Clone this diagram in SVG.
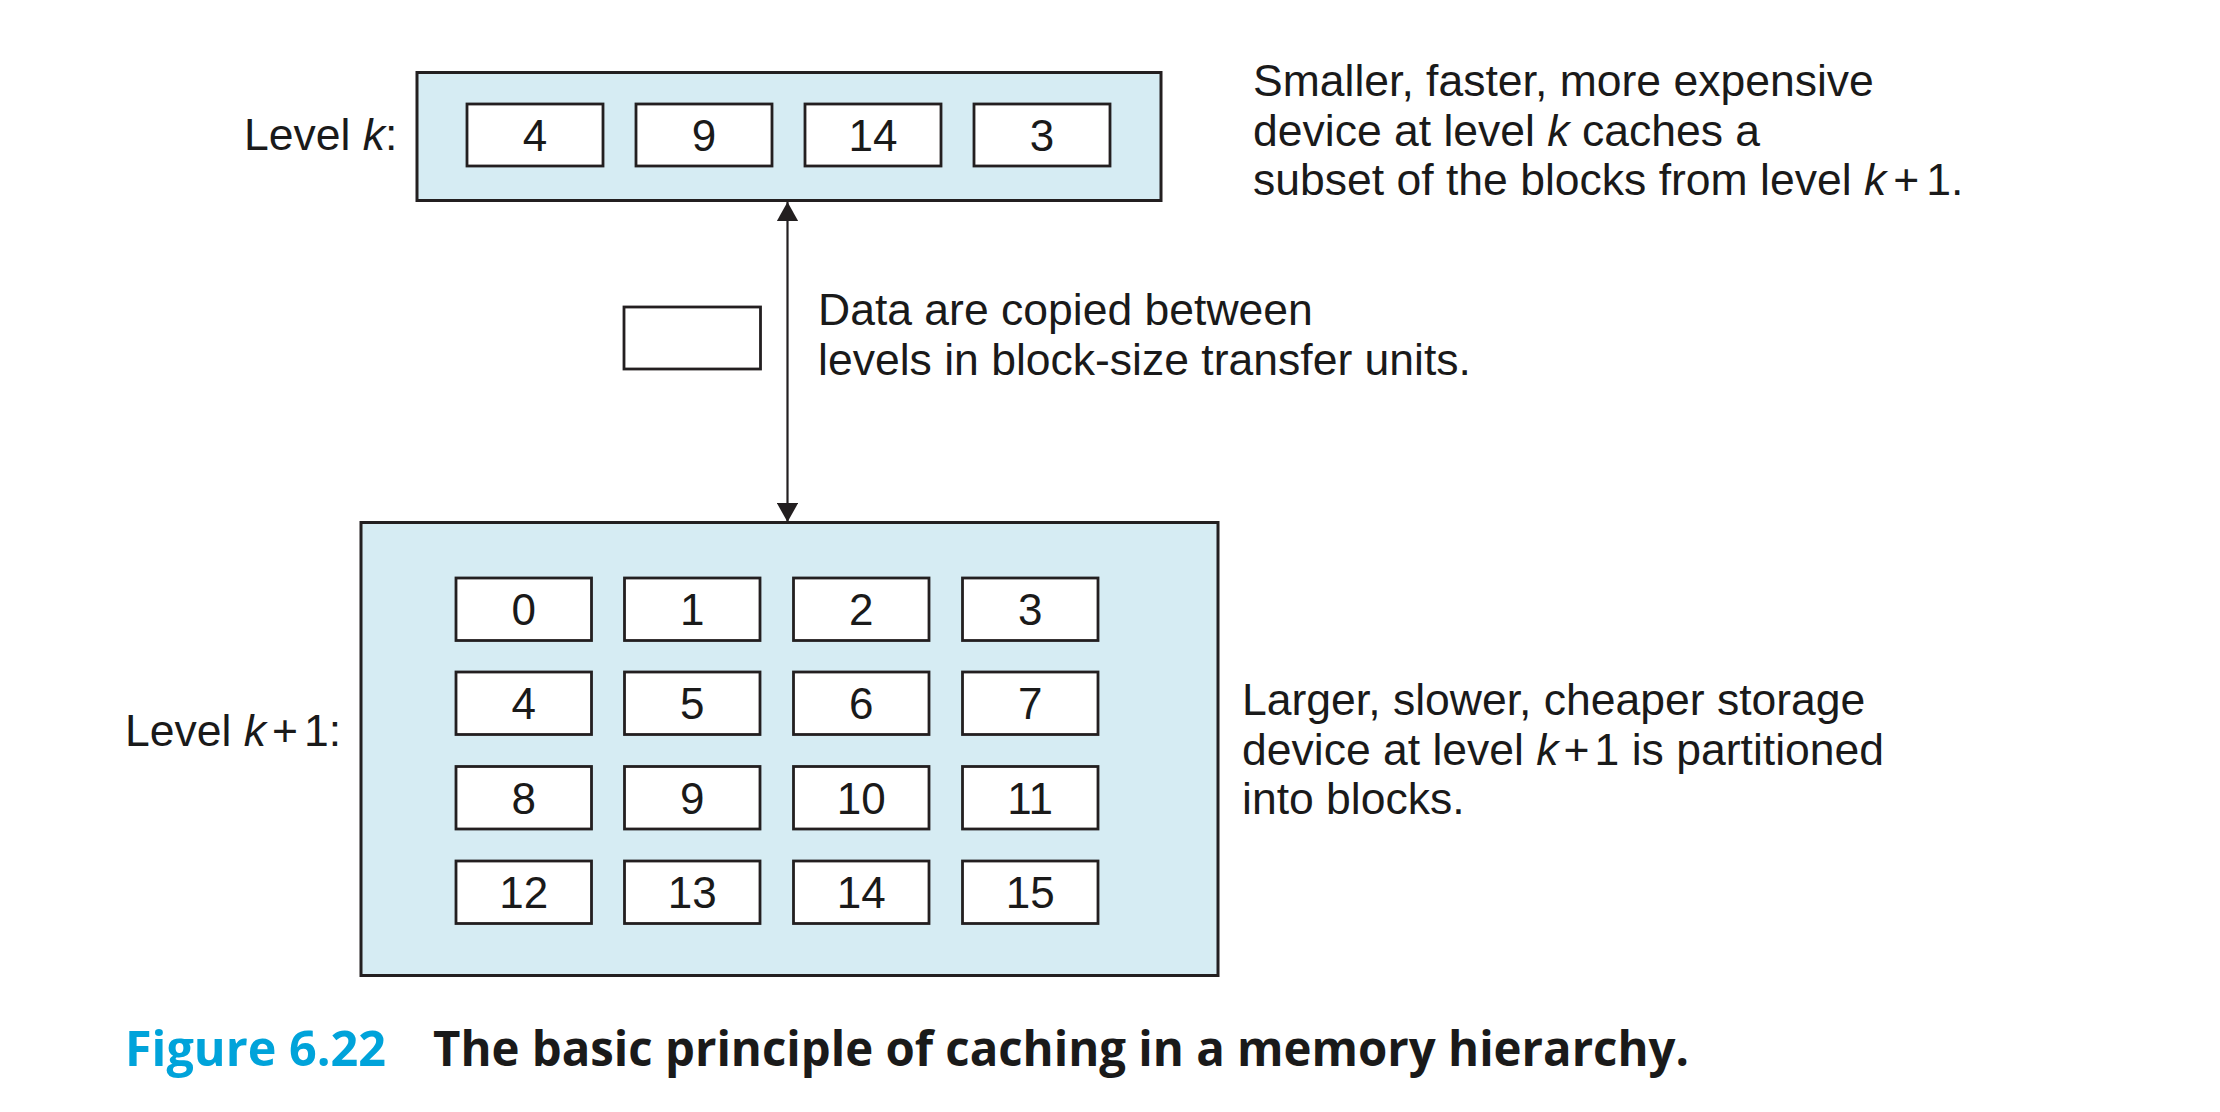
<svg xmlns="http://www.w3.org/2000/svg" width="2220" height="1112" viewBox="0 0 2220 1112">
<style>
.lvl{fill:#d6ecf3;stroke:#231f20;stroke-width:3}
.blk{fill:#ffffff;stroke:#231f20;stroke-width:2.8}
.t{font-family:"Liberation Sans",Arial,Helvetica,sans-serif;font-size:44.5px;fill:#1a1a1a}
.n{font-family:"Liberation Sans",Arial,Helvetica,sans-serif;font-size:44px;fill:#1a1a1a;text-anchor:middle}
.i{font-style:italic}
.cap{font-family:"Open Sans","Liberation Sans",sans-serif;font-size:48px;font-weight:700}
.conn{stroke:#231f20;stroke-width:2.2;fill:none}
</style>
<defs>
<marker id="ah" viewBox="0 0 19 21.4" refX="19" refY="10.7" markerWidth="19" markerHeight="21.4" markerUnits="userSpaceOnUse" orient="auto-start-reverse">
<path d="M0,0 L19,10.7 L0,21.4 z" fill="#231f20"/>
</marker>
</defs>
<rect width="2220" height="1112" fill="#ffffff"/>

<g id="level-k">
<rect class="lvl" x="417" y="72.5" width="744" height="128"/>
<text class="t" x="244" y="150">Level <tspan class="i">k</tspan>:</text>
</g>
<g id="k-block-4"><rect class="blk" x="467" y="104" width="136" height="62"/><text class="n" x="535" y="151">4</text></g>
<g id="k-block-9"><rect class="blk" x="636" y="104" width="136" height="62"/><text class="n" x="704" y="151">9</text></g>
<g id="k-block-14"><rect class="blk" x="805" y="104" width="136" height="62"/><text class="n" x="873" y="151">14</text></g>
<g id="k-block-3"><rect class="blk" x="974" y="104" width="136" height="62"/><text class="n" x="1042" y="151">3</text></g>

<g id="note-k">
<text class="t" x="1253" y="96">Smaller, faster, more expensive</text>
<text class="t" x="1253" y="145.5">device at level <tspan class="i">k</tspan> caches a</text>
<text class="t" x="1253" y="195">subset of the blocks from level <tspan class="i">k</tspan><tspan dx="7">+</tspan><tspan dx="7">1.</tspan></text>
</g>

<g id="transfer-unit">
<rect class="blk" x="624" y="307" width="136.5" height="62"/>
</g>
<g id="note-transfer">
<text class="t" x="818" y="325">Data are copied between</text>
<text class="t" x="818" y="375">levels in block-size transfer units.</text>
</g>

<g id="connectors">
<line class="conn" x1="787.5" y1="202" x2="787.5" y2="522" marker-start="url(#ah)" marker-end="url(#ah)"/>
</g>

<g id="level-k1">
<rect class="lvl" x="361" y="522.5" width="857" height="453"/>
<text class="t" x="125" y="746">Level <tspan class="i">k</tspan><tspan dx="6">+</tspan><tspan dx="6">1:</tspan></text>
</g>
<g id="b0"><rect class="blk" x="456" y="578" width="135.5" height="62.5"/><text class="n" x="523.7" y="625">0</text></g>
<g id="b1"><rect class="blk" x="624.5" y="578" width="135.5" height="62.5"/><text class="n" x="692.2" y="625">1</text></g>
<g id="b2"><rect class="blk" x="793.5" y="578" width="135.5" height="62.5"/><text class="n" x="861.2" y="625">2</text></g>
<g id="b3"><rect class="blk" x="962.5" y="578" width="135.5" height="62.5"/><text class="n" x="1030.2" y="625">3</text></g>
<g id="b4"><rect class="blk" x="456" y="672" width="135.5" height="62.5"/><text class="n" x="523.7" y="719">4</text></g>
<g id="b5"><rect class="blk" x="624.5" y="672" width="135.5" height="62.5"/><text class="n" x="692.2" y="719">5</text></g>
<g id="b6"><rect class="blk" x="793.5" y="672" width="135.5" height="62.5"/><text class="n" x="861.2" y="719">6</text></g>
<g id="b7"><rect class="blk" x="962.5" y="672" width="135.5" height="62.5"/><text class="n" x="1030.2" y="719">7</text></g>
<g id="b8"><rect class="blk" x="456" y="766.5" width="135.5" height="62.5"/><text class="n" x="523.7" y="813.5">8</text></g>
<g id="b9"><rect class="blk" x="624.5" y="766.5" width="135.5" height="62.5"/><text class="n" x="692.2" y="813.5">9</text></g>
<g id="b10"><rect class="blk" x="793.5" y="766.5" width="135.5" height="62.5"/><text class="n" x="861.2" y="813.5">10</text></g>
<g id="b11"><rect class="blk" x="962.5" y="766.5" width="135.5" height="62.5"/><text class="n" x="1030.2" y="813.5">11</text></g>
<g id="b12"><rect class="blk" x="456" y="861" width="135.5" height="62.5"/><text class="n" x="523.7" y="908">12</text></g>
<g id="b13"><rect class="blk" x="624.5" y="861" width="135.5" height="62.5"/><text class="n" x="692.2" y="908">13</text></g>
<g id="b14"><rect class="blk" x="793.5" y="861" width="135.5" height="62.5"/><text class="n" x="861.2" y="908">14</text></g>
<g id="b15"><rect class="blk" x="962.5" y="861" width="135.5" height="62.5"/><text class="n" x="1030.2" y="908">15</text></g>

<g id="note-k1">
<text class="t" x="1242" y="715">Larger, slower, cheaper storage</text>
<text class="t" x="1242" y="764.5">device at level <tspan class="i">k</tspan><tspan dx="5">+</tspan><tspan dx="5">1 is partitioned</tspan></text>
<text class="t" x="1242" y="814">into blocks.</text>
</g>

<g id="caption">
<text class="cap" x="125" y="1066" fill="#00a3da" textLength="261" lengthAdjust="spacingAndGlyphs">Figure 6.22</text>
<text class="cap" x="433" y="1066" fill="#1a1a1a" textLength="1256" lengthAdjust="spacingAndGlyphs">The basic principle of caching in a memory hierarchy.</text>
</g>
</svg>
